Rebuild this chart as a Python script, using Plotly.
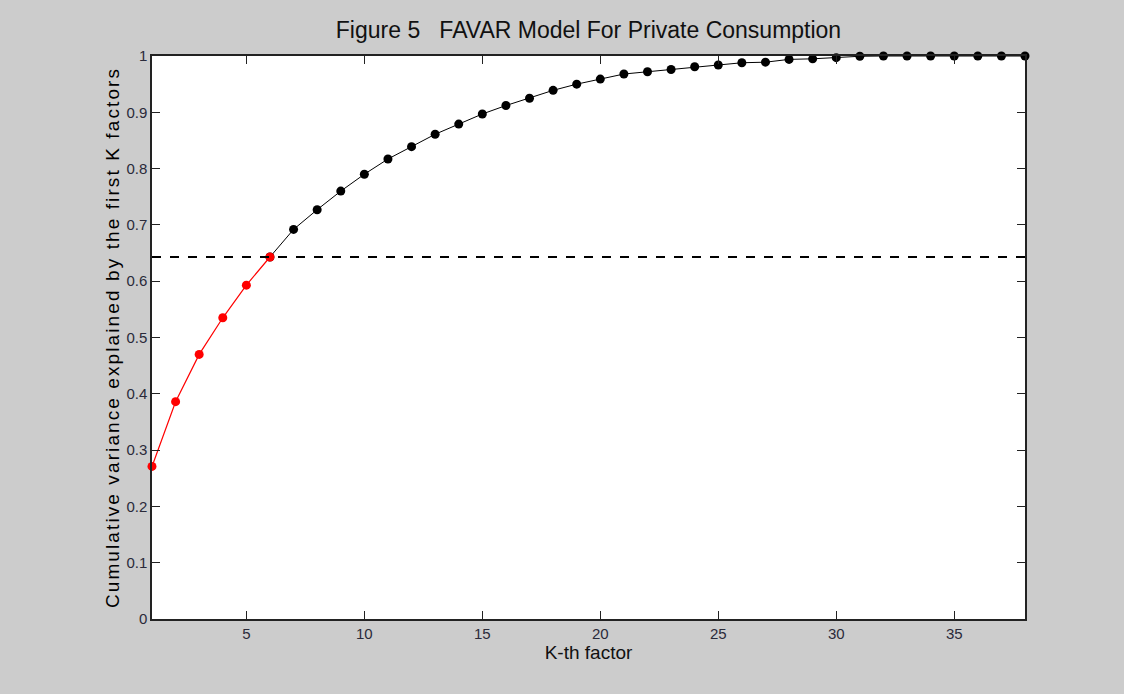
import plotly.graph_objects as go

k = list(range(1, 39))
cumvar = [0.271, 0.386, 0.470, 0.535, 0.593, 0.643, 0.692, 0.727, 0.760, 0.790,
          0.817, 0.839, 0.861, 0.879, 0.897, 0.912, 0.925, 0.939, 0.950, 0.959,
          0.968, 0.972, 0.976, 0.981, 0.984, 0.988, 0.989, 0.994, 0.995, 0.997,
          0.9995, 1.0, 1.0, 1.0, 1.0, 1.0, 1.0, 1.0]
n_sel = 6
threshold = 0.643
x_ticks = [5, 10, 15, 20, 25, 30, 35]
y_ticks = [0, 0.1, 0.2, 0.3, 0.4, 0.5, 0.6, 0.7, 0.8, 0.9, 1]
y_ticklabels = ["0", "0.1", "0.2", "0.3", "0.4", "0.5", "0.6", "0.7", "0.8", "0.9", "1"]

narrow = "Liberation Sans Narrow, Arial Narrow, Liberation Sans, Arial, sans-serif"

fig = go.Figure()
fig.add_trace(go.Scatter(
    x=k[n_sel - 1:], y=cumvar[n_sel - 1:], mode="lines+markers",
    line=dict(color="black", width=1),
    marker=dict(color="black", size=9, symbol="circle"),
    showlegend=False, cliponaxis=False))
fig.add_trace(go.Scatter(
    x=k[:n_sel], y=cumvar[:n_sel], mode="lines+markers",
    line=dict(color="red", width=1.2),
    marker=dict(color="red", size=9, symbol="circle"),
    showlegend=False, cliponaxis=False))
fig.add_shape(type="line", xref="paper", x0=0, x1=1, yref="y", y0=threshold, y1=threshold,
              line=dict(color="black", width=2, dash="dash"))

fig.update_layout(
    width=1124, height=694,
    paper_bgcolor="#cccccc", plot_bgcolor="white",
    margin=dict(l=152, r=99, t=56, b=75),
    title=dict(text="Figure 5   FAVAR Model For Private Consumption",
               x=(152 + 1025) / 2 / 1124, xanchor="center", y=1 - 30 / 694, yanchor="middle",
               font=dict(family=narrow, size=23, color="#111111")),
    xaxis=dict(range=[1, 38], tickvals=x_ticks, ticks="inside", ticklen=8, tickcolor="#222",
               showgrid=False, zeroline=False, showline=True, linecolor="#222", linewidth=1.5,
               mirror="ticks", tickfont=dict(family=narrow, size=15, color="#2a2a3a"),
               title=dict(text="K-th factor", font=dict(family=narrow, size=19, color="#111"),
                          standoff=4)),
    yaxis=dict(range=[0, 1], tickvals=y_ticks, ticktext=y_ticklabels, ticks="inside",
               ticklen=8, tickcolor="#222",
               showgrid=False, zeroline=False, showline=True, linecolor="#222", linewidth=1.5,
               mirror="ticks", tickfont=dict(family=narrow, size=15, color="#2a2a3a"),
               title=dict(text="Cumulative variance explained by the first K factors",
                          font=dict(family="Liberation Sans, Arial, sans-serif", size=19, color="#000"),
                          standoff=2)),
)

post = """
function sp(){document.querySelectorAll('.ytitle').forEach(function(e){e.style.letterSpacing='2.1px';});}
sp(); setTimeout(sp, 50); setTimeout(sp, 300);
"""
fig.write_html("out.html", post_script=post)
